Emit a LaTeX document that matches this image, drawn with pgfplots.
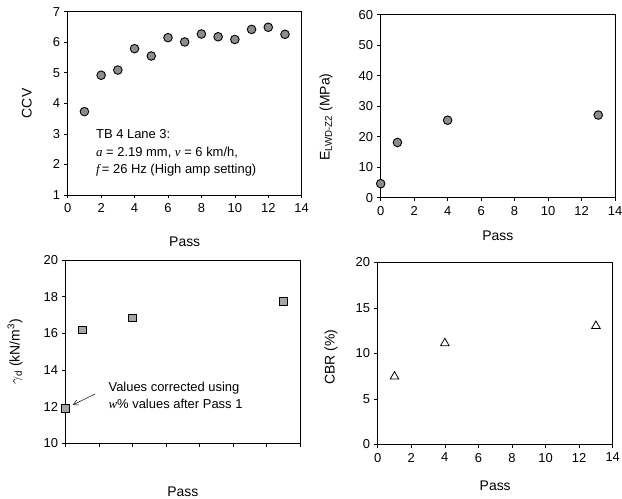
\documentclass[border=0pt]{standalone}
\usepackage{pgfplots}
\pgfplotsset{compat=1.18}
\usepackage{fontspec}
\setmainfont{Liberation Sans}
\newfontfamily\serifit[ItalicFont={Liberation Serif Italic}]{Liberation Serif}
\newcommand{\vi}[1]{{\serifit\itshape #1}}
\usetikzlibrary{arrows.meta}
\begin{document}
\fontsize{12}{14}\selectfont
\begin{tikzpicture}
\useasboundingbox (0bp,0bp) rectangle (622bp,499bp);
\pgfplotsset{
  every axis/.append style={
    scale only axis,
    axis line style={line width=0.8pt},
    tick style={line width=0.6pt, black},
    tick align=outside,
    major tick length=3.5bp,
    xtick pos=bottom, ytick pos=left,
    /pgf/number format/assume math mode=true,
    tick label style={font=\fontsize{13}{15}\selectfont},
    label style={font=\fontsize{14}{16}\selectfont},
    xticklabel style={yshift=-1bp},
  },
  every axis y label/.style={rotate=90, anchor=center},
  every axis x label/.style={anchor=center},
  cmark/.style={only marks, mark=*, mark size=4.3bp, mark options={fill=black!45, draw=black, line width=0.9pt}},
}
% Top-left: CCV
\begin{axis}[at={(67.7bp,304bp)}, anchor=south west, width=234bp, height=183.3bp,
  xmin=0, xmax=14, ymin=1, ymax=7, xtick={0,2,...,14}, ytick={1,2,...,7},
  xlabel={Pass}, ylabel={CCV},
  xlabel style={at={(axis description cs:0.5,-0.255)}},
  ylabel style={at={(axis description cs:-0.175,0.5)}},
  clip=false]
\addplot[cmark] coordinates {(1,3.73) (2,4.92) (3,5.09) (4,5.79) (5,5.55) (6,6.15) (7,6.01) (8,6.27) (9,6.18) (10,6.09) (11,6.42) (12,6.49) (13,6.26)};
\node[anchor=west, align=left, font=\fontsize{13}{17.5}\selectfont, inner sep=0pt] at (axis cs:1.69,2.37)
  {TB 4 Lane 3:\\\vi{a} = 2.19 mm, \vi{v} = 6 km/h,\\\vi{f}\,= 26 Hz (High amp setting)};
\end{axis}
% Top-right: E_LWD
\begin{axis}[at={(380.7bp,301.3bp)}, anchor=south west, width=234.3bp, height=183bp,
  xmin=0, xmax=14, ymin=0, ymax=60, xtick={0,2,...,14}, ytick={0,10,...,60},
  xlabel={Pass}, ylabel={E\textsubscript{LWD-Z2} (MPa)},
  xlabel style={at={(axis description cs:0.5,-0.21)}},
  ylabel style={at={(axis description cs:-0.233,0.44)}},
  clip=false]
\addplot[cmark] coordinates {(0,4.6) (1,18.1) (4,25.4) (13,27.1)};
\end{axis}
% Bottom-left: gamma_d
\begin{axis}[at={(65.7bp,55.7bp)}, anchor=south west, width=234.3bp, height=183.3bp,
  xmin=0, xmax=14, ymin=10, ymax=20, xtick={0,2,...,14}, xticklabels={}, ytick={10,12,...,20},
  xlabel={Pass}, ylabel={$\gamma_{\mathrm{d}}$ (kN/m\textsuperscript{3})},
  xlabel style={at={(axis description cs:0.5,-0.264)}},
  ylabel style={at={(axis description cs:-0.216,0.5)}},
  clip=false]
\addplot[only marks, mark=square*, mark size=3.8bp, mark options={fill=black!35, draw=black, line width=0.9pt}]
  coordinates {(0,11.91) (1,16.18) (4,16.84) (13,17.73)};
\node[anchor=west, align=left, font=\fontsize{13}{17.5}\selectfont, inner sep=0pt] at (axis cs:2.55,12.62)
  {Values corrected using\\\vi{w}\% values after Pass 1};
\draw[-{Straight Barb[length=5bp,width=5bp]}, line width=0.5pt] (axis cs:1.75,12.69) -- (axis cs:0.42,12.09);
\end{axis}
% Bottom-right: CBR
\begin{axis}[at={(377.7bp,54.7bp)}, anchor=south west, width=235bp, height=182bp,
  xmin=0, xmax=14, ymin=0, ymax=20, xtick={0,2,...,14}, ytick={0,5,...,20},
  xlabel={Pass}, ylabel={CBR (\%)},
  xlabel style={at={(axis description cs:0.5,-0.228)}},
  ylabel style={at={(axis description cs:-0.199,0.48)}},
  clip=false]
\addplot[only marks, mark=triangle, mark size=5bp, mark options={draw=black, line width=0.8pt}]
  coordinates {(1,7.44) (4,11.1) (13,13.0)};
\end{axis}
\end{tikzpicture}
\end{document}
